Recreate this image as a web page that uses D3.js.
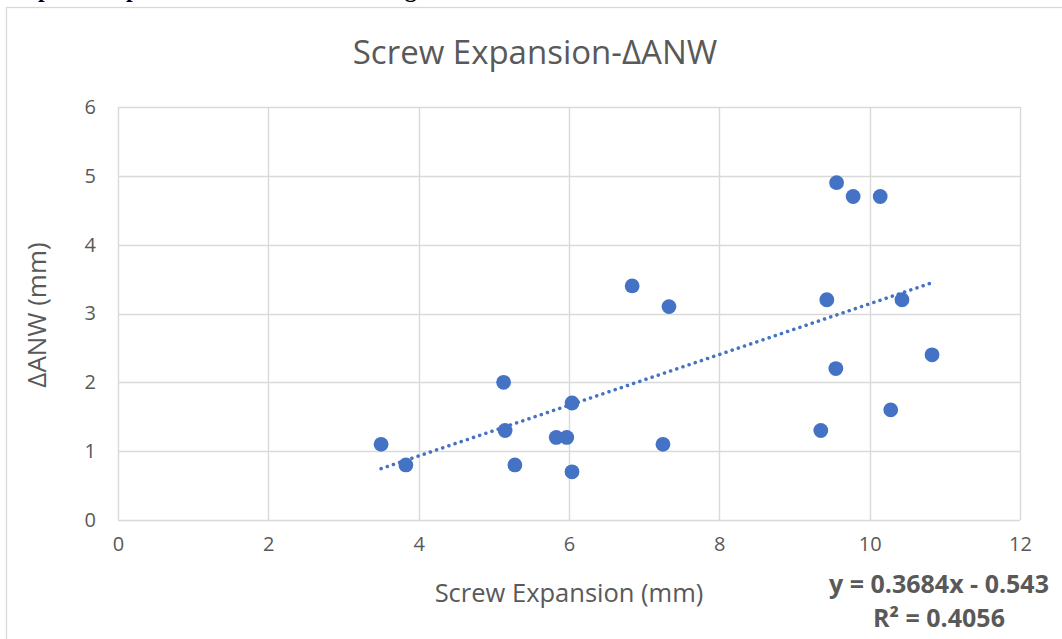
<!DOCTYPE html>
<html>
<head>
<meta charset="utf-8">
<script src="https://cdn.jsdelivr.net/npm/d3@7"></script>
<style>
  html, body { margin: 0; padding: 0; background: #fff; }
  svg { display: block; }
  text { font-family: "Open Sans", "Noto Sans", sans-serif; }
</style>
</head>
<body>
<svg id="chart" width="1062" height="639"></svg>
<script>
// screw expansion (mm) vs change in ANW (mm)
const screwExp = [3.50, 3.83, 5.13, 5.15, 5.28, 5.83, 5.97, 6.04, 6.04, 6.84, 7.25,
                  7.33, 9.56, 9.78, 10.14, 9.43, 10.43, 9.55, 10.83, 10.28, 9.35];
const deltaANW = [1.1, 0.8, 2.0, 1.3, 0.8, 1.2, 1.2, 1.7, 0.7, 3.4, 1.1,
                  3.1, 4.9, 4.7, 4.7, 3.2, 3.2, 2.2, 2.4, 1.6, 1.3];
const xTicks = [0, 2, 4, 6, 8, 10, 12];
const yTicks = [0, 1, 2, 3, 4, 5, 6];
const slope = 0.3684, intercept = -0.543;
const eqLabel = 'y = 0.3684x - 0.543';
const r2Label = 'R² = 0.4056';

const svg = d3.select('#chart');
const grey = '#595959', gridC = '#d9d9d9', blue = '#4472C4';

// page header, cut off at the top of the picture
svg.append('text')
  .attr('x', 10).attr('y', -3)
  .style('font-family', '"Liberation Serif", "DejaVu Serif", serif')
  .style('font-weight', 'bold').style('font-size', '24px')
  .attr('fill', '#000')
  .text('Expansion-pattern of the skeletal change');

// chart frame
svg.append('rect')
  .attr('x', 6.5).attr('y', 7.5).attr('width', 1070).attr('height', 650)
  .attr('fill', 'none').attr('stroke', gridC).attr('stroke-width', 1.3);

const x = d3.scaleLinear().domain([0, 12]).range([118, 1020]);
const y = d3.scaleLinear().domain([0, 6]).range([520, 107]);

// grid
svg.append('g').selectAll('line')
  .data(xTicks).enter().append('line')
  .attr('x1', d => Math.round(x(d)) + 0.5).attr('x2', d => Math.round(x(d)) + 0.5)
  .attr('y1', y(6)).attr('y2', y(0))
  .attr('stroke', gridC).attr('stroke-width', 1.4);
svg.append('g').selectAll('line')
  .data(yTicks).enter().append('line')
  .attr('y1', d => Math.round(y(d)) + 0.5).attr('y2', d => Math.round(y(d)) + 0.5)
  .attr('x1', x(0)).attr('x2', x(12))
  .attr('stroke', gridC).attr('stroke-width', 1.4);

// tick labels
const fmt = d3.format('d');
const xAxis = d3.axisBottom(x).tickValues(xTicks).tickFormat(fmt).tickSize(0).tickPadding(23);
const gx = svg.append('g').attr('transform', `translate(0,${y(0)})`).call(xAxis);
const yAxis = d3.axisLeft(y).tickValues(yTicks).tickFormat(fmt).tickSize(0).tickPadding(22);
const gy = svg.append('g').attr('transform', `translate(${x(0)},0)`).call(yAxis);
[gx, gy].forEach(g => {
  g.attr('font-size', 20).attr('font-family', '"Open Sans", sans-serif');
  g.select('.domain').remove();
  g.selectAll('text').attr('fill', grey);
});
gx.selectAll('text').attr('dy', '0.4em');

// points
svg.append('g').selectAll('circle')
  .data(screwExp.map((v, i) => [v, deltaANW[i]]))
  .enter().append('circle')
  .attr('cx', d => x(d[0])).attr('cy', d => y(d[1]))
  .attr('r', 7.4).attr('fill', blue);

// linear trendline across the data range
const xr = d3.extent(screwExp);
svg.append('line')
  .attr('x1', x(xr[0])).attr('y1', y(slope * xr[0] + intercept))
  .attr('x2', x(xr[1])).attr('y2', y(slope * xr[1] + intercept))
  .attr('stroke', blue).attr('stroke-width', 3.5)
  .attr('stroke-linecap', 'round').attr('stroke-dasharray', '0.1 6.4');

// titles
svg.append('text')
  .attr('x', 535).attr('y', 64).attr('text-anchor', 'middle')
  .attr('fill', grey).attr('font-size', 33)
  .text('Screw Expansion-ΔANW');
svg.append('text')
  .attr('x', 569).attr('y', 602).attr('text-anchor', 'middle')
  .attr('fill', grey).attr('font-size', 25.5)
  .text('Screw Expansion (mm)');
svg.append('text')
  .attr('transform', 'translate(46,315) rotate(-90)').attr('text-anchor', 'middle')
  .attr('fill', grey).attr('font-size', 26)
  .text('ΔANW (mm)');

// trendline label
const eq = svg.append('text').attr('text-anchor', 'middle')
  .attr('fill', grey).attr('font-size', 25).attr('font-weight', 'bold');
eq.append('tspan').attr('x', 939).attr('y', 593).text(eqLabel);
eq.append('tspan').attr('x', 939).attr('y', 627).text(r2Label);
</script>
</body>
</html>
